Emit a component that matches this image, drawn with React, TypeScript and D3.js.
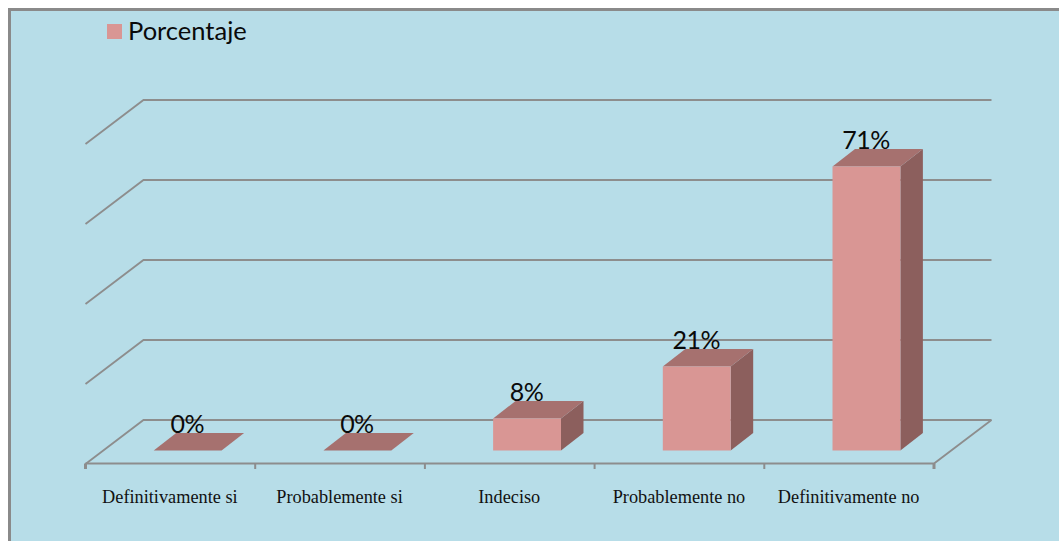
import React from 'react';
import * as d3 from 'd3';

const categories = ['Definitivamente si', 'Probablemente si', 'Indeciso', 'Probablemente no', 'Definitivamente no'];
const values = [0, 0, 8, 21, 71];
const gridValues = [0, 20, 40, 60, 80];
const seriesName = 'Porcentaje';

const width = 1059;
const height = 541;

// fake 3d offsets
const wallDepth = { dx: 58, dy: -44 };
const barDepth = { dx: 22.5, dy: -17.5 };
const floorY = 463.5;
const barShiftX = 17.3;
const barBaseOffset = 13.5; // front of the floor sits below the bars' base

const x = d3.scaleBand<string>().domain(categories).range([85.5, 934]).paddingInner(0.6).paddingOuter(0.3);
const band = d3.scaleBand<string>().domain(categories).range([85.5, 934]);
const y = d3.scaleLinear().domain([0, 100]).range([450.5, 50.5]);

const gridColor = '#8d8d8d';
const bg = '#b7dde8';
const front = '#d99694';
const top = '#a6716f';
const side = '#8c5f5d';

const App = () => {
  const polyline = d3.line();
  const bw = x.bandwidth();

  return (
    <svg width={width} height={height} style={{ position: 'absolute', left: 0, top: 0, display: 'block' }}>
      <rect x={0} y={0} width={width} height={height} fill="#fff" />
      <rect x={9.5} y={9.5} width={width + 10} height={height + 10} fill={bg} stroke="#8a8a8a" strokeWidth={3} />

      {/* walls and floor */}
      {gridValues.map(v => {
        const yFront = y(v) + barBaseOffset;
        const yBack = yFront + wallDepth.dy;
        return (
          <path
            key={v}
            fill="none"
            stroke={gridColor}
            strokeWidth={1.8}
            d={polyline([
              [85.5, yFront],
              [85.5 + wallDepth.dx, yBack],
              [934 + wallDepth.dx - 0.5, yBack],
            ]) ?? ''}
          />
        );
      })}
      <path
        fill="none"
        stroke={gridColor}
        strokeWidth={1.8}
        d={polyline([
          [934 + wallDepth.dx - 0.5, floorY + wallDepth.dy + 0.5],
          [934, floorY],
          [85.5, floorY],
        ]) ?? ''}
      />
      {[...categories.map(c => band(c) ?? 0), 934].map((tx, i) => (
        <line key={i} x1={tx} x2={tx} y1={floorY} y2={floorY + 5.5} stroke={gridColor} strokeWidth={i === 0 || i === 5 ? 3 : 2} />
      ))}

      {/* bars */}
      {categories.map((c, i) => {
        const x0 = (x(c) ?? 0) + barShiftX;
        const x1 = x0 + bw;
        const yTop = y(values[i]);
        const yBase = y(0);
        const { dx, dy } = barDepth;
        return (
          <g key={c}>
            {values[i] > 0 && (
              <path fill={side} d={polyline([[x1, yTop], [x1 + dx, yTop + dy], [x1 + dx, yBase + dy], [x1, yBase]]) + 'Z'} />
            )}
            <path fill={top} d={polyline([[x0, yTop], [x0 + dx, yTop + dy], [x1 + dx, yTop + dy], [x1, yTop]]) + 'Z'} />
            {values[i] > 0 && <rect x={x0} y={yTop} width={bw} height={yBase - yTop} fill={front} />}
            <text
              x={x0 + bw / 2 - 0.5}
              y={yTop + dy - 0.5}
              textAnchor="middle"
              fontFamily="Lato"
              fontSize={25}
              letterSpacing={-0.6}
              fill="#0a0a0a"
            >
              {values[i]}%
            </text>
          </g>
        );
      })}

      {/* category labels */}
      {categories.map(c => (
        <text
          key={c}
          x={(band(c) ?? 0) + band.bandwidth() / 2 - 0.5}
          y={503}
          textAnchor="middle"
          fontFamily="Liberation Serif"
          fontSize={18.3}
          fill="#111"
        >
          {c}
        </text>
      ))}

      {/* legend */}
      <rect x={107} y={24} width={15} height={15} fill={front} />
      <text x={128} y={40} fontFamily="Lato" fontSize={25.5} fill="#0a0a0a">
        {seriesName}
      </text>
    </svg>
  );
};

export default App;
